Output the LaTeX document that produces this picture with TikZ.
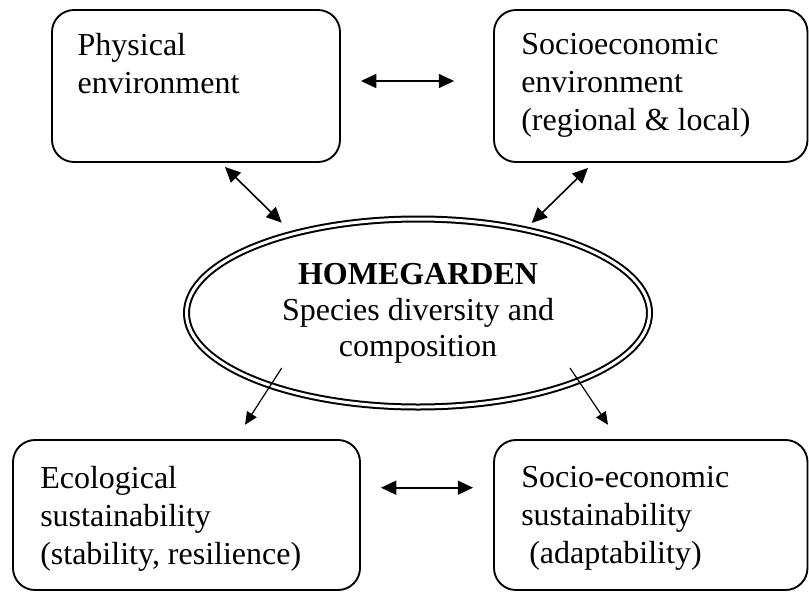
\documentclass[tikz,border=0pt]{standalone}
\usepackage{fontspec}
\setmainfont{Liberation Serif}
\usetikzlibrary{shapes.geometric}
\usetikzlibrary{arrows.meta}
\usetikzlibrary{calc}

\begin{document}
\begin{tikzpicture}[x=0.75pt,y=0.75pt,yscale=-1,xscale=1,
  rbox/.style={draw, line width=1.4pt, rounded corners=16.5pt, inner sep=0pt},
  txt/.style={anchor=north west, inner sep=0pt, align=left, font=\fontsize{24}{28.5}\selectfont},
  link/.style={line width=1.2pt, {Triangle[length=11.5pt,width=10.5pt]}-{Triangle[length=11.5pt,width=10.5pt]}},
  lead/.style={line width=0.9pt, -{Triangle[length=9.5pt,width=8.5pt]}}]
\path [use as bounding box] (0,0) rectangle (809,592);

%Rounded Rect
\node [rbox, minimum width=216pt, minimum height=114pt] (phys) at (196,86) {};
%Rounded Rect
\node [rbox, minimum width=235.1pt, minimum height=114pt] (socio) at (650.75,86) {};
%Rounded Rect
\node [rbox, minimum width=260.25pt, minimum height=112.5pt] (ecol) at (186.5,515) {};
%Rounded Rect
\node [rbox, minimum width=235.1pt, minimum height=112.5pt] (sust) at (650.75,515) {};
%Ellipse
\node [draw, ellipse, double, line width=1.5pt, double distance=2.25pt, minimum width=347.25pt, minimum height=141pt, inner sep=0pt, align=center, font=\fontsize{24}{27}\selectfont] (hg) at (418,313) {\textbf{HOMEGARDEN}\\Species diversity and\\composition};

% Text Node
\node [txt] (physT) at (77.4,33.2) {Physical\\environment};
% Text Node
\node [txt] (socioT) at (521,33.2) {Socioeconomic\\environment\\(regional \& local)};
% Text Node
\node [txt] (ecolT) at (40,465.9) {Ecological\\sustainability\\(stability, resilience)};
% Text Node
\node [txt] (sustT) at (521,465.9) {Socio-economic\\sustainability\\\hspace{0.25em}(adaptability)};

%Straight Lines
\draw [link] ($(phys.east)+(20,-5)$) -- ($(socio.west)+(-39,-5)$);
%Straight Lines
\draw [link] ($(ecol.east)+(20,-27.3)$) -- ($(sust.west)+(-20,-27.3)$);
%Straight Lines
\draw [link] ($(phys.south)+(29,4)$) -- ($(hg.center)+(-136.3,-90.3)$);
%Straight Lines
\draw [link] ($(socio.south)+(-62.75,5)$) -- ($(hg.center)+(113.7,-90)$);
%Straight Lines
\draw [lead] ($(hg.center)+(-136.3,55)$) -- ($(ecol.north)+(58.5,-14.3)$);
%Straight Lines
\draw [lead] ($(hg.center)+(152,55)$) -- ($(sust.north)+(-42.75,-14.3)$);

\end{tikzpicture}
\end{document}
